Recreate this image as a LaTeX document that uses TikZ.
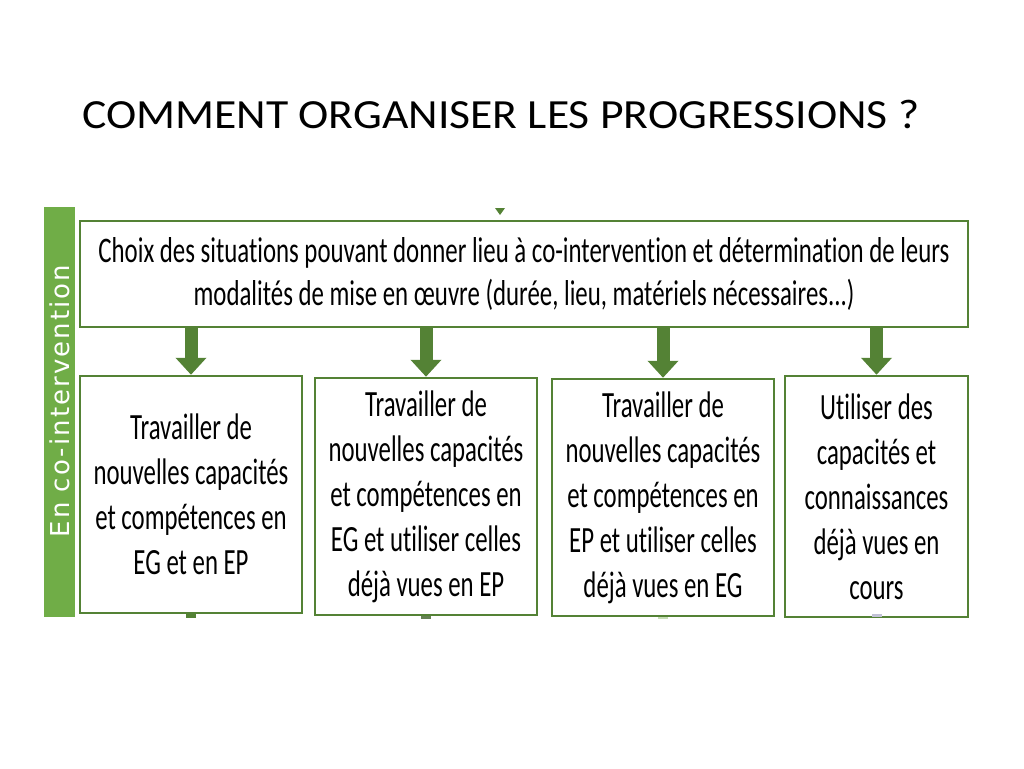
\documentclass[tikz,border=0pt]{standalone}
\usepackage{fontspec}
\setmainfont{Carlito}[RawFeature=-liga]
\newfontfamily\titlefont{Carlito}[FakeStretch=1.1,RawFeature=-liga]
\newfontfamily\condfont{Carlito}[FakeStretch=0.67,RawFeature=-liga]
\newfontfamily\topfont{Carlito}[FakeStretch=0.69,RawFeature=-liga]
\newfontfamily\sidefont{DejaVu Sans}[LetterSpace=8]
\usetikzlibrary{arrows.meta}
\definecolor{dgreen}{HTML}{548235}
\definecolor{lgreen}{HTML}{70AD47}
\tikzset{
  box/.style={draw=dgreen, line width=2.5pt, fill=white, inner sep=0pt,
    align=center, font=\condfont\fontsize{37}{45}\selectfont},
  toptext/.style={align=center, font=\topfont\fontsize{36}{43}\selectfont},
  flow/.style={draw=dgreen, line width=13pt,
    -{Triangle[width=30pt,length=17pt]}},
}
\begin{document}
\begin{tikzpicture}[x=1pt,y=-1pt]
\useasboundingbox (0,0) rectangle (1024,768);
\fill[white] (0,0) rectangle (1024,768);
% title
\node[anchor=base west, inner sep=0pt, font=\titlefont\fontsize{41.5}{48}\selectfont] (title) at (82,128) {COMMENT ORGANISER LES PROGRESSIONS ?};
% side bar
\node[fill=lgreen, minimum width=31pt, minimum height=410pt, inner sep=0pt] (bar) at (59.5,412) {};
\node[rotate=90, text=white, font=\sidefont\fontsize{26}{30}\selectfont, inner sep=0pt] (bartext) at (bar.center |- 0,401) {En co-intervention};
% small top arrow
\coordinate (ta) at (500,215);
\fill[dgreen] (495,208) -- (505,208) -- (ta) -- cycle;
% top box
\node[box, minimum width=888pt, minimum height=106pt] (top) at (524,274) {};
\node[toptext] (toptxt) at (top.center) {Choix des situations pouvant donner lieu à co-intervention et détermination de leurs\\modalités de mise en œuvre (durée, lieu, matériels nécessaires...)};
% bottom boxes
\node[box, minimum width=222pt, minimum height=237pt] (b1) at (191,494.5) {Travailler de\\nouvelles capacités\\et compétences en\\EG et en EP};
\node[box, minimum width=222pt, minimum height=237pt] (b2) at (426,496.5) {Travailler de\\nouvelles capacités\\et compétences en\\EG et utiliser celles\\déjà vues en EP};
\node[box, minimum width=222pt, minimum height=237pt] (b3) at (663,497.5) {Travailler de\\nouvelles capacités\\et compétences en\\EP et utiliser celles\\déjà vues en EG};
\node[box, minimum width=183pt, minimum height=241pt] (b4) at (876.5,496.5) {Utiliser des\\capacités et\\connaissances\\déjà vues en\\cours};
% arrows
\foreach \b in {b1,b2,b3,b4}
  \draw[flow] (top.south -| \b.north) -- (\b.north);
% stubs below boxes
\fill[dgreen] ([xshift=-5pt]b1.south) rectangle ([xshift=5pt,yshift=-4pt]b1.south);
\fill[dgreen!60!gray] ([xshift=-5pt]b2.south) rectangle ([xshift=5pt,yshift=-3pt]b2.south);
\fill[lgreen!40!white] ([xshift=-5pt]b3.south) rectangle ([xshift=5pt,yshift=-2pt]b3.south);
\fill[blue!20!gray!40] ([xshift=-5pt,yshift=4pt]b4.south) rectangle ([xshift=5pt,yshift=1pt]b4.south);
\end{tikzpicture}
\end{document}
